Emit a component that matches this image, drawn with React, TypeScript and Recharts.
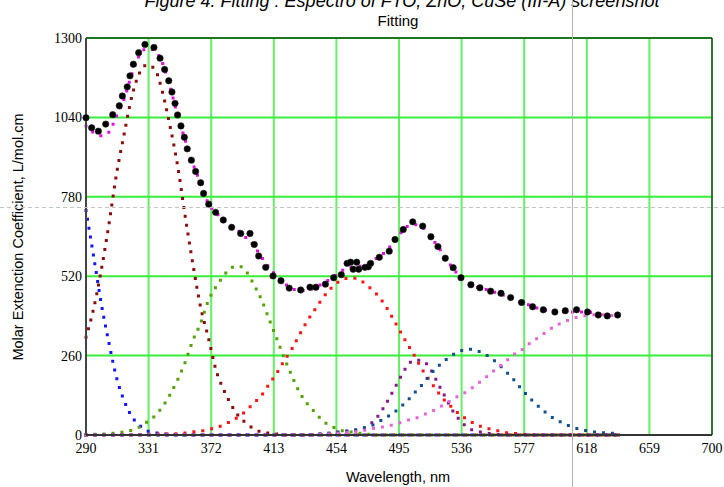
import { LineChart, Line, XAxis, YAxis, CartesianGrid, ReferenceArea } from "recharts";

// wavelength grid for the fitted curves (nm)
const wl = [
  290, 295, 300, 305, 310, 315, 320, 325, 330, 335,
  340, 345, 350, 355, 360, 365, 370, 375, 380, 385,
  390, 395, 400, 405, 410, 415, 420, 425, 430, 435,
  440, 445, 450, 455, 460, 465, 470, 475, 480, 485,
  490, 495, 500, 505, 510, 515, 520, 525, 530, 535,
  540, 545, 550, 555, 560, 565, 570, 575, 580, 585,
  590, 595, 600, 605, 610, 615, 620, 625, 630, 635,
  640,
];

const bandUV = [
  735, 585, 430, 302, 188, 112, 60, 32, 14, 8,
  4, 2, 0, 0, 0, 0, 0, 0, 0, 0,
  0, 0, 0, 0, 0, 0, 0, 0, 0, 0,
  0, 0, 0, 0, 0, 0, 0, 0, 0, 0,
  0, 0, 0, 0, 0, 0, 0, 0, 0, 0,
  0, 0, 0, 0, 0, 0, 0, 0, 0, 0,
  0, 0, 0, 0, 0, 0, 0, 0, 0, 0,
  0,
];

const band331 = [
  320, 414, 540, 690, 855, 986, 1108, 1185, 1212, 1198,
  1124, 1012, 882, 715, 560, 420, 322, 215, 150, 100,
  62, 38, 20, 10, 6, 3, 0, 0, 0, 0,
  0, 0, 0, 0, 0, 0, 0, 0, 0, 0,
  0, 0, 0, 0, 0, 0, 0, 0, 0, 0,
  0, 0, 0, 0, 0, 0, 0, 0, 0, 0,
  0, 0, 0, 0, 0, 0, 0, 0, 0, 0,
  0,
];

const band390 = [
  0, 2, 3, 5, 7, 10, 16, 26, 43, 62,
  92, 132, 181, 239, 310, 365, 438, 484, 520, 548,
  553, 535, 492, 442, 378, 315, 250, 192, 138, 102,
  74, 47, 30, 20, 11, 9, 5, 3, 0, 0,
  0, 0, 0, 0, 0, 0, 0, 0, 0, 0,
  0, 0, 0, 0, 0, 0, 0, 0, 0, 0,
  0, 0, 0, 0, 0, 0, 0, 0, 0, 0,
  0,
];

const band462 = [
  0, 0, 0, 0, 0, 1, 1, 2, 2, 3,
  3, 3, 5, 7, 10, 13, 18, 24, 33, 45,
  60, 80, 105, 130, 167, 203, 245, 283, 330, 374,
  411, 448, 478, 500, 512, 514, 505, 486, 463, 432,
  390, 346, 302, 261, 216, 179, 144, 113, 89, 66,
  50, 36, 26, 19, 14, 8, 6, 3, 0, 0,
  0, 0, 0, 0, 0, 0, 0, 0, 0, 0,
  0,
];

const band508 = [
  0, 0, 0, 0, 0, 0, 0, 0, 0, 0,
  0, 0, 0, 0, 0, 0, 0, 0, 0, 0,
  0, 0, 0, 0, 0, 0, 0, 0, 0, 0,
  2, 4, 6, 10, 13, 16, 19, 31, 54, 90,
  134, 180, 223, 245, 244, 221, 174, 127, 81, 48,
  24, 13, 8, 4, 2, 0, 0, 0, 0, 0,
  0, 0, 0, 0, 0, 0, 0, 0, 0, 0,
  0,
];

const band540 = [
  0, 0, 0, 0, 0, 0, 0, 0, 0, 0,
  0, 0, 0, 0, 0, 0, 0, 0, 0, 0,
  0, 0, 0, 0, 0, 0, 0, 0, 0, 0,
  2, 4, 6, 9, 12, 15, 21, 27, 38, 53,
  68, 87, 110, 137, 164, 195, 222, 244, 262, 275,
  281, 278, 268, 253, 232, 208, 182, 152, 124, 100,
  78, 59, 45, 33, 24, 17, 12, 9, 7, 6,
  5,
];

const band625 = [
  0, 0, 0, 0, 0, 0, 0, 0, 0, 0,
  0, 0, 0, 0, 0, 0, 0, 0, 0, 0,
  0, 0, 0, 0, 0, 0, 0, 0, 0, 0,
  1, 2, 4, 6, 8, 10, 13, 19, 24, 27,
  32, 39, 48, 53, 64, 74, 86, 102, 116, 131,
  144, 163, 181, 202, 221, 241, 263, 277, 298, 315,
  332, 350, 364, 374, 383, 389, 392, 394, 393, 391,
  389,
];

const fitTotal = [
  1012, 990, 980, 992, 1045, 1100, 1182, 1243, 1266, 1258,
  1220, 1140, 1048, 965, 888, 826, 760, 729, 704, 687,
  668, 645, 620, 582, 548, 519, 496, 479, 473, 475,
  482, 496, 511, 528, 545, 550, 553, 562, 578, 595,
  622, 654, 682, 689, 682, 654, 620, 585, 547, 520,
  498, 485, 480, 471, 464, 455, 445, 434, 426, 416,
  410, 407, 405, 403, 403, 403, 402, 398, 395, 391,
  389,
];

// measured spectrum
const measuredWl = [
  290, 293.7, 298.1, 302.9, 307.5, 311.8, 313.8, 317, 318.8, 321,
  324.5, 328.6, 334.5, 338.5, 341.5, 344.2, 346.3, 348.3, 350, 352.2,
  354.4, 356.3, 359, 361.8, 365.1, 367, 370.4, 374.9, 379.9, 385.4,
  391.3, 397.4, 400.2, 403.1, 407.7, 412.5, 417.7, 423.1, 430.6, 436.7,
  440.6, 446.8, 452.2, 457.2, 461, 463.3, 467.3, 465, 468.6, 472.7,
  474.9, 476.4, 482.1, 488.6, 492.4, 497.8, 504, 510.5, 515.9, 520.5,
  525.3, 530.5, 535.6, 542.1, 548, 555, 561.8, 568.1, 575.3, 582.5,
  589.5, 597.1, 603.9, 611.3, 618.5, 625.5, 631.4, 638.2,
];
const measuredAbs = [
  1039, 1006, 995, 1018, 1049, 1078, 1110, 1140, 1176, 1214,
  1252, 1279, 1269, 1234, 1197, 1160, 1123, 1086, 1048, 1012,
  975, 937, 900, 863, 826, 791, 756, 729, 704, 680,
  660, 660, 624, 586, 549, 521, 505, 481, 475, 484,
  484, 494, 515, 525, 562, 566, 566, 543, 543, 549,
  551, 562, 582, 602, 640, 673, 698, 684, 649, 617,
  579, 548, 515, 492, 482, 471, 464, 450, 434, 420,
  410, 403, 407, 410, 403, 393, 390, 393,
];

const xTicks = [290, 331, 372, 413, 454, 495, 536, 577, 618, 659, 700];
const yTicks = [0, 260, 520, 780, 1040, 1300];

const rows = wl.map((x, i) => ({
  x,
  uv: bandUV[i],
  b331: band331[i],
  b390: band390[i],
  b462: band462[i],
  b508: band508[i],
  b540: band540[i],
  b625: band625[i],
  total: fitTotal[i],
}));
const measured = measuredWl.map((x, i) => ({ x, v: measuredAbs[i] }));

const bands = [
  { key: "uv", color: "#1414ff" },
  { key: "b331", color: "#8b0c0c" },
  { key: "b390", color: "#56a00a" },
  { key: "b462", color: "#ff1414" },
  { key: "b508", color: "#85188a" },
  { key: "b540", color: "#124f8c" },
  { key: "b625", color: "#e466d6" },
];

const sans = "'Liberation Sans', Arial, sans-serif";

export default function App() {
  return (
    <div style={{ position: "absolute", left: 0, top: 0, width: 724, height: 487, background: "#fff" }}>
      <LineChart width={724} height={487} data={rows} margin={{ top: 38, right: 12, bottom: 0, left: 0 }}>
        <CartesianGrid horizontal={false} stroke="#66ee66" strokeWidth={2} />
        <CartesianGrid vertical={false} stroke="#38ee38" strokeWidth={2} />
        <XAxis
          dataKey="x"
          type="number"
          domain={[290, 700]}
          ticks={xTicks}
          interval={0}
          height={52}
          tickLine={false}
          axisLine={{ stroke: "#333", strokeWidth: 2 }}
          tick={{ fontFamily: "'Liberation Serif', serif", fontSize: 14, fill: "#000" }}
        />
        <YAxis
          type="number"
          domain={[0, 1300]}
          ticks={yTicks}
          interval={0}
          width={86}
          tickLine={false}
          tickSize={2}
          tickMargin={2}
          axisLine={{ stroke: "#444", strokeWidth: 2 }}
          tick={{ fontFamily: "'Liberation Serif', serif", fontSize: 14, fill: "#000" }}
        />
        <ReferenceArea x1={290} x2={700} y1={0} y2={1300} fill="none" stroke="#000" strokeWidth={1} />
        {bands.map((b) => (
          <Line
            key={b.key}
            type="monotone"
            dataKey={b.key}
            stroke={b.color}
            strokeWidth={3}
            strokeDasharray="0 9"
            strokeLinecap="square"
            dot={false}
            activeDot={false}
            isAnimationActive={false}
          />
        ))}
        <Line
          data={measured}
          dataKey="v"
          type="linear"
          stroke="none"
          dot={{ r: 3.2, fill: "#000", stroke: "#222", strokeWidth: 0.6 }}
          activeDot={false}
          isAnimationActive={false}
        />
        <Line
          type="monotone"
          dataKey="total"
          stroke="#e010e0"
          strokeWidth={3}
          strokeDasharray="0 9"
          strokeLinecap="square"
          dot={false}
          activeDot={false}
          isAnimationActive={false}
        />
      </LineChart>
      <svg width={724} height={487} style={{ position: "absolute", left: 0, top: 0, pointerEvents: "none" }}>
        <text x={402} y={7} textAnchor="middle" fontFamily={sans} fontSize={18} fontStyle="italic" fill="#000">
          Figure 4. Fitting : Espectro of FTO, ZnO, CuSe (III-A) screenshot
        </text>
        <text x={398} y={26} textAnchor="middle" fontFamily={sans} fontSize={15} fill="#000">
          Fitting
        </text>
        <text x={398} y={482} textAnchor="middle" fontFamily={sans} fontSize={14.5} fill="#000">
          Wavelength, nm
        </text>
        <text
          x={0}
          y={0}
          transform="translate(23,237) rotate(-90)"
          textAnchor="middle"
          fontFamily={sans}
          fontSize={14.5}
          fill="#000"
        >
          Molar Extenction Coefficient, L/mol.cm
        </text>
        <line x1={572.5} y1={0} x2={572.5} y2={487} stroke="#b4b4b4" strokeWidth={1} />
        <line x1={0} y1={207.5} x2={724} y2={207.5} stroke="#c4c4c4" strokeWidth={1} strokeDasharray="4 3" />
      </svg>
    </div>
  );
}
